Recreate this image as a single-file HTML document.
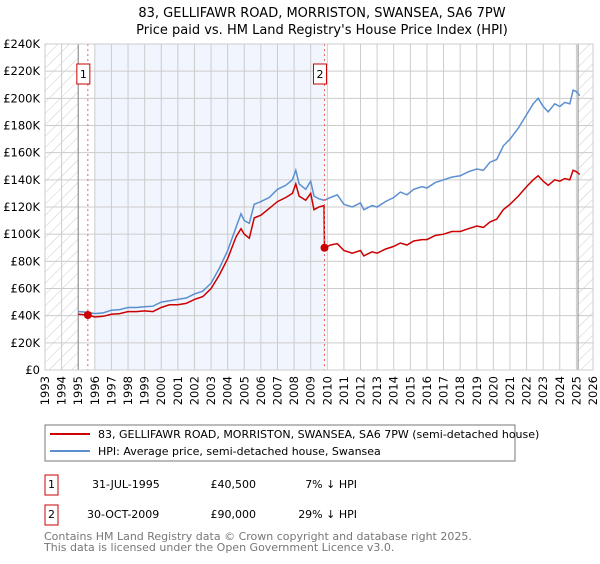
<!DOCTYPE html>
<html><head><meta charset="utf-8"><style>
body{margin:0;background:#fff;font-family:"DejaVu Sans","Liberation Sans",sans-serif;}
svg text{font-family:"DejaVu Sans","Liberation Sans",sans-serif;}
</style></head><body>
<svg id="c" width="600" height="560" xmlns="http://www.w3.org/2000/svg">
<defs><pattern id="h" width="8" height="8" patternUnits="userSpaceOnUse" patternTransform="rotate(45)"><line x1="0" y1="0" x2="0" y2="8" stroke="#ccc" stroke-width="1"/></pattern></defs>
<text x="322" y="17" text-anchor="middle" font-size="13">83, GELLIFAWR ROAD, MORRISTON, SWANSEA, SA6 7PW</text>
<text x="322" y="34" text-anchor="middle" font-size="13">Price paid vs. HM Land Registry's House Price Index (HPI)</text>
<g id="plot"></g>
<rect x="45" y="425" width="470" height="36" fill="none" stroke="#777"/>
<line x1="50" y1="434" x2="90" y2="434" stroke="#cc0000" stroke-width="2"/>
<text x="98" y="438" font-size="11">83, GELLIFAWR ROAD, MORRISTON, SWANSEA, SA6 7PW (semi-detached house)</text>
<line x1="50" y1="451" x2="90" y2="451" stroke="#5b8fd0" stroke-width="2"/>
<text x="98" y="455" font-size="11">HPI: Average price, semi-detached house, Swansea</text>
<g>
<rect x="45" y="475" width="13" height="20" fill="none" stroke="#cc0000"/>
<text x="51.5" y="488" text-anchor="middle" font-size="11">1</text>
<text x="92" y="488" font-size="11">31-JUL-1995</text>
<text x="256" y="488" text-anchor="end" font-size="11">£40,500</text>
<text x="357" y="488" text-anchor="end" font-size="11">7% ↓ HPI</text>
</g>
<g>
<rect x="45" y="505" width="13" height="20" fill="none" stroke="#cc0000"/>
<text x="51.5" y="518" text-anchor="middle" font-size="11">2</text>
<text x="87" y="518" font-size="11">30-OCT-2009</text>
<text x="256" y="518" text-anchor="end" font-size="11">£90,000</text>
<text x="357" y="518" text-anchor="end" font-size="11">29% ↓ HPI</text>
</g>
<text x="44" y="540" font-size="11" fill="#777">Contains HM Land Registry data © Crown copyright and database right 2025.</text>
<text x="44" y="551" font-size="11" fill="#777">This data is licensed under the Open Government Licence v3.0.</text>
</svg>
<script>
const times=[1995.0,1995.6,1996.0,1996.5,1997.0,1997.5,1998.0,1998.5,1999.0,1999.5,2000.0,2000.5,2001.0,2001.5,2002.0,2002.5,2003.0,2003.5,2004.0,2004.5,2004.8,2005.0,2005.3,2005.6,2006.0,2006.5,2007.0,2007.5,2007.9,2008.1,2008.3,2008.7,2009.0,2009.2,2009.5,2009.8,2009.83,2010.2,2010.6,2011.0,2011.5,2012.0,2012.2,2012.7,2013.0,2013.5,2014.0,2014.4,2014.8,2015.2,2015.7,2016.0,2016.5,2017.0,2017.5,2018.0,2018.5,2019.0,2019.4,2019.8,2020.2,2020.6,2021.0,2021.5,2022.0,2022.4,2022.7,2023.0,2023.3,2023.7,2024.0,2024.3,2024.6,2024.8,2025.0,2025.2];
const hpiValues=[43,42.5,41.5,42,44,44.5,46,46,46.5,47,50,51,52,53,56,58,64,75,88,105,115,110,108,122,124,127,133,136,140,147,137,133,139,128,126,125,125,127,129,122,120,123,118,121,120,124,127,131,129,133,135,134,138,140,142,143,146,148,147,153,155,165,170,178,188,196,200,194,190,196,194,197,196,206,205,202];
const priceValues=[41,40.5,39,39.5,41,41.5,43,43,43.5,43,46,48,48,49,52,54,60,70,82,98,104,100,97,112,114,119,124,127,130,137,128,125,130,118,120,121,90,92,93,88,86,88,84,87,86,89,91,93.5,92,95,96,96,99,100,102,102,104,106,105,109,111,118,122,128,135,140,143,139,136,140,139,141,140,147,146,144];
const saleTimes=[1995.58,2009.83];
const salePrices=[40.5,90];
const saleLabels=["1","2"];
const yTicks=[0,20,40,60,80,100,120,140,160,180,200,220,240];
const xYears=[];for(let y=1993;y<=2026;y++)xYears.push(y);

const L=45,R=593,T=44,B=370;
const xs=t=>L+(t-1993)/(2026-1993)*(R-L);
const ys=v=>B-v/240*(B-T);
const NS="http://www.w3.org/2000/svg";
const g=document.getElementById('plot');
function mk(tag,a,p){const e=document.createElementNS(NS,tag);for(const k in a)e.setAttribute(k,a[k]);(p||g).appendChild(e);return e;}
let e;
e=mk('rect',{x:L,y:T,width:xs(1995)-L,height:B-T,fill:'url(#h)'});


e=mk('rect',{x:xs(2025.1),y:T,width:R-xs(2025.1),height:B-T,fill:'url(#h)'});


e=mk('rect',{x:xs(1996),y:T,width:xs(saleTimes[1])-xs(1996),height:B-T,fill:'#eef3fc',opacity:0.8});


yTicks.forEach(v=>{
 const l=mk('line',{x1:L,x2:R,y1:ys(v),y2:ys(v),stroke:'#ccc'});
 
 
 const t=mk('text',{x:L-5,y:ys(v)+4,'text-anchor':'end','font-size':11.5});
 t.textContent=v===0?'£0':'£'+v+'K';
 
 
});
xYears.forEach(y=>{
 const l=mk('line',{x1:xs(y),x2:xs(y),y1:T,y2:B,stroke:'#ccc'});
 
 
 const t=mk('text',{x:0,y:0,'text-anchor':'end','font-size':11.5,transform:`translate(${xs(y)+4},${B+6}) rotate(-90)`});
 t.textContent=y;
 
 
});
e=mk('line',{x1:xs(1995),x2:xs(1995),y1:T,y2:B,stroke:'#888'});


e=mk('line',{x1:xs(2025.1),x2:xs(2025.1),y1:T,y2:B,stroke:'#888'});


const pts=a=>a.map((v,i)=>xs(times[i]).toFixed(1)+','+ys(v).toFixed(1)).join(' ');
e=mk('polyline',{points:pts(hpiValues),fill:'none',stroke:'#5b8fd0','stroke-width':1.5});


e=mk('polyline',{points:pts(priceValues),fill:'none',stroke:'#cc0000','stroke-width':1.5});


saleTimes.forEach((t,i)=>{
 const l=mk('line',{x1:xs(t),x2:xs(t),y1:T,y2:B,stroke:'#f06060','stroke-dasharray':'2,3'});
 
 
 const c=mk('circle',{cx:xs(t),cy:ys(salePrices[i]),r:4,fill:'#cc0000'});
 
 
 const b=mk('rect',{x:xs(t)-11,y:64,width:13,height:20,fill:'#fff',stroke:'#cc0000'});
 
 
 const tx=mk('text',{x:xs(t)-4.5,y:78,'text-anchor':'middle','font-size':11});
 tx.textContent=saleLabels[i];
 
 
});
e=mk('rect',{x:L,y:T,width:R-L,height:B-T,fill:'none',stroke:'#ccc'});


</script>
</body></html>
